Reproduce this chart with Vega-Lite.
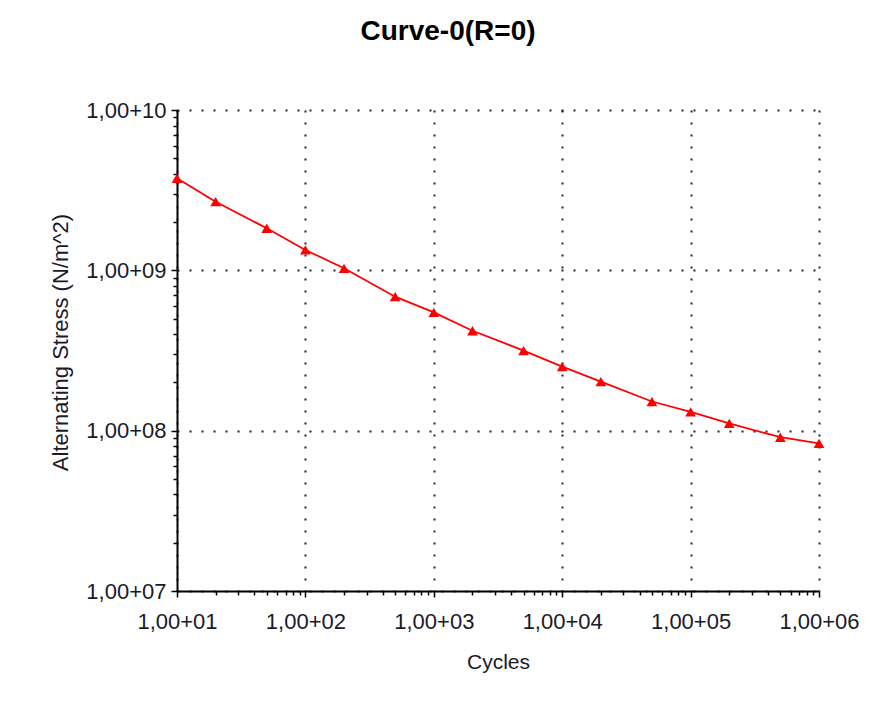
{
  "$schema": "https://vega.github.io/schema/vega-lite/v6.json",
  "width": 642,
  "height": 481,
  "autosize": {"type": "none"},
  "padding": {"left": 177, "top": 110, "right": 51, "bottom": 113},
  "background": "white",
  "config": {"view": {"stroke": null}},
  "title": {
    "text": "Curve-0(R=0)",
    "font": "Liberation Sans",
    "fontSize": 28,
    "fontWeight": "bold",
    "color": "#000000",
    "dx": -50,
    "offset": 31,
    "baseline": "alphabetic"
  },
  "data": {
    "values": [
      {"cycles": 10, "stress": 3750000000},
      {"cycles": 20, "stress": 2680000000},
      {"cycles": 50, "stress": 1830000000},
      {"cycles": 100, "stress": 1340000000},
      {"cycles": 200, "stress": 1030000000},
      {"cycles": 500, "stress": 685000000},
      {"cycles": 1000, "stress": 547000000},
      {"cycles": 2000, "stress": 420000000},
      {"cycles": 5000, "stress": 316000000},
      {"cycles": 10000, "stress": 251000000},
      {"cycles": 20000, "stress": 202000000},
      {"cycles": 50000, "stress": 152000000},
      {"cycles": 100000, "stress": 131000000},
      {"cycles": 200000, "stress": 111000000},
      {"cycles": 500000, "stress": 91000000},
      {"cycles": 1000000, "stress": 83400000}
    ]
  },
  "encoding": {
    "x": {
      "field": "cycles",
      "type": "quantitative",
      "scale": {"type": "log", "domain": [10, 1000000], "nice": false},
      "axis": {
        "title": "Cycles",
        "titleFont": "Liberation Sans",
        "titleFontSize": 21,
        "titleFontWeight": "normal",
        "titleColor": "#1a1a2a",
        "titleBaseline": "alphabetic",
        "titleY": 77,
        "values": [10,20,30,40,50,60,70,80,90,100,200,300,400,500,600,700,800,900,1000,2000,3000,4000,5000,6000,7000,8000,9000,10000,20000,30000,40000,50000,60000,70000,80000,90000,100000,200000,300000,400000,500000,600000,700000,800000,900000,1000000],
        "labelExpr": "abs(log(datum.value)/LN10 - round(log(datum.value)/LN10)) < 0.001 ? '1,00+' + (round(log(datum.value)/LN10) < 10 ? '0' : '') + round(log(datum.value)/LN10) : ''",
        "labelFont": "Liberation Sans",
        "labelFontSize": 22,
        "labelColor": "#1a1a2a",
        "labelPadding": 14,
        "labelOverlap": false,
        "labelFlush": false,
        "labelBound": false,
        "domainColor": "#000000",
        "domainWidth": 2,
        "tickColor": "#000000",
        "tickWidth": 1.5,
        "tickSize": {"condition": {"test": "abs(log(datum.value)/LN10 - round(log(datum.value)/LN10)) < 0.001", "value": 6}, "value": 4},
        "grid": true,
        "gridColor": "#000000",
        "gridWidth": 2,
        "gridDash": [2, 10],
        "gridOpacity": {"condition": {"test": "abs(log(datum.value)/LN10 - round(log(datum.value)/LN10)) < 0.001", "value": 0.85}, "value": 0}
      }
    },
    "y": {
      "field": "stress",
      "type": "quantitative",
      "scale": {"type": "log", "domain": [10000000, 10000000000], "nice": false},
      "axis": {
        "title": "Alternating Stress (N/m^2)",
        "titleFont": "Liberation Sans",
        "titleFontSize": 22,
        "titleFontWeight": "normal",
        "titleColor": "#1a1a2a",
        "titleBaseline": "middle",
        "titleX": -117,
        "titleY": 232,
        "values": [10000000,20000000,30000000,40000000,50000000,60000000,70000000,80000000,90000000,100000000,200000000,300000000,400000000,500000000,600000000,700000000,800000000,900000000,1000000000,2000000000,3000000000,4000000000,5000000000,6000000000,7000000000,8000000000,9000000000,10000000000],
        "labelExpr": "abs(log(datum.value)/LN10 - round(log(datum.value)/LN10)) < 0.001 ? '1,00+' + (round(log(datum.value)/LN10) < 10 ? '0' : '') + round(log(datum.value)/LN10) : ''",
        "labelFont": "Liberation Sans",
        "labelFontSize": 22,
        "labelColor": "#1a1a2a",
        "labelPadding": 5,
        "labelOverlap": false,
        "labelFlush": false,
        "labelBound": false,
        "domainColor": "#000000",
        "domainWidth": 2,
        "tickColor": "#000000",
        "tickWidth": 1.5,
        "tickSize": {"condition": {"test": "abs(log(datum.value)/LN10 - round(log(datum.value)/LN10)) < 0.001", "value": 6}, "value": 4},
        "grid": true,
        "gridColor": "#000000",
        "gridWidth": 2,
        "gridDash": [2, 10],
        "gridOpacity": {"condition": {"test": "abs(log(datum.value)/LN10 - round(log(datum.value)/LN10)) < 0.001", "value": 0.85}, "value": 0}
      }
    }
  },
  "layer": [
    {"mark": {"type": "line", "color": "#ff0000", "strokeWidth": 1.8}},
    {"mark": {"type": "point", "shape": "triangle-up", "filled": true, "color": "#ff0000", "opacity": 1, "size": 115}}
  ]
}
